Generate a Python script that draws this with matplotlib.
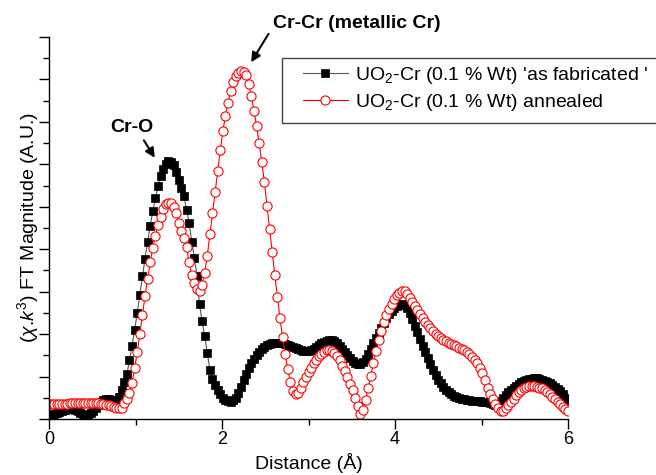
import numpy as np
import matplotlib.pyplot as plt
from matplotlib.ticker import MultipleLocator
from matplotlib.patches import Rectangle

plt.rcParams['font.family'] = 'Liberation Sans'
plt.rcParams['mathtext.fontset'] = 'custom'
plt.rcParams['mathtext.rm'] = 'Liberation Sans'
plt.rcParams['mathtext.it'] = 'Liberation Sans:italic'
plt.rcParams['mathtext.bf'] = 'Liberation Sans:bold'

# FT grid, 0 - 6 A
distance = np.linspace(0, 6, 201)

# 'as fabricated' sample (black squares)
fabricated = [
    0.10, 0.10, 0.11, 0.13, 0.16, 0.19, 0.22, 0.24, 0.25, 0.24,
    0.22, 0.19, 0.15, 0.12, 0.10, 0.10, 0.13, 0.19, 0.27, 0.34,
    0.40, 0.44, 0.46, 0.46, 0.44, 0.42, 0.44, 0.52, 0.68, 0.88,
    1.05, 1.39, 1.72, 2.10, 2.50, 2.93, 3.36, 3.78, 4.18, 4.55,
    4.90, 5.20, 5.48, 5.72, 5.90, 6.01, 6.07, 6.06, 5.99, 5.82,
    5.62, 5.45, 5.25, 4.93, 4.62, 4.18, 3.80, 3.36, 2.70, 2.30,
    1.95, 1.55, 1.16, 0.95, 0.80, 0.68, 0.58, 0.50, 0.45, 0.42,
    0.41, 0.44, 0.50, 0.62, 0.76, 0.92, 1.07, 1.20, 1.32, 1.42,
    1.50, 1.58, 1.65, 1.70, 1.74, 1.77, 1.79, 1.80, 1.80, 1.79,
    1.78, 1.76, 1.74, 1.72, 1.70, 1.68, 1.65, 1.63, 1.61, 1.60,
    1.60, 1.62, 1.65, 1.69, 1.74, 1.78, 1.81, 1.84, 1.85, 1.85,
    1.83, 1.79, 1.73, 1.66, 1.58, 1.50, 1.43, 1.37, 1.33, 1.30,
    1.30, 1.34, 1.42, 1.53, 1.65, 1.78, 1.90, 2.03, 2.15, 2.27,
    2.38, 2.47, 2.55, 2.61, 2.66, 2.69, 2.70, 2.68, 2.62, 2.50,
    2.35, 2.20, 2.05, 1.89, 1.73, 1.58, 1.43, 1.29, 1.16, 1.04,
    0.93, 0.84, 0.76, 0.69, 0.63, 0.58, 0.54, 0.51, 0.49, 0.47,
    0.46, 0.45, 0.44, 0.43, 0.43, 0.42, 0.42, 0.41, 0.40, 0.39,
    0.37, 0.35, 0.34, 0.36, 0.42, 0.50, 0.57, 0.63, 0.69, 0.74,
    0.78, 0.82, 0.86, 0.89, 0.92, 0.94, 0.95, 0.96, 0.96, 0.95,
    0.93, 0.90, 0.87, 0.84, 0.80, 0.76, 0.71, 0.65, 0.58, 0.50,
    0.45,
]

# annealed sample (open red circles)
annealed = [
    0.35, 0.35, 0.35, 0.36, 0.36, 0.36, 0.36, 0.36, 0.37, 0.37,
    0.37, 0.38, 0.38, 0.38, 0.38, 0.38, 0.38, 0.38, 0.37, 0.37,
    0.36, 0.35, 0.34, 0.32, 0.30, 0.28, 0.26, 0.25, 0.27, 0.37,
    0.47, 0.62, 0.85, 1.20, 1.58, 2.00, 2.45, 2.90, 3.30, 3.69,
    4.03, 4.32, 4.56, 4.77, 4.95, 5.06, 5.10, 5.08, 5.00, 4.85,
    4.62, 4.44, 4.26, 4.05, 3.70, 3.40, 3.20, 3.07, 3.02, 3.16,
    3.45, 3.85, 4.35, 4.85, 5.35, 5.85, 6.33, 6.78, 7.15, 7.45,
    7.72, 7.93, 8.07, 8.16, 8.19, 8.18, 8.10, 7.90, 7.60, 7.25,
    6.90, 6.50, 6.05, 5.58, 5.02, 4.48, 3.93, 3.40, 2.88, 2.37,
    1.94, 1.53, 1.18, 0.88, 0.66, 0.58, 0.62, 0.74, 0.87, 0.99,
    1.10, 1.20, 1.31, 1.40, 1.48, 1.54, 1.59, 1.62, 1.63, 1.61,
    1.56, 1.48, 1.38, 1.26, 1.13, 0.99, 0.83, 0.68, 0.49, 0.30,
    0.12, 0.22, 0.45, 0.72, 1.02, 1.32, 1.60, 1.85, 2.08, 2.28,
    2.46, 2.60, 2.71, 2.82, 2.91, 2.97, 3.01, 3.01, 2.95, 2.86,
    2.76, 2.66, 2.56, 2.47, 2.38, 2.29, 2.21, 2.14, 2.07, 2.01,
    1.96, 1.91, 1.87, 1.83, 1.80, 1.77, 1.74, 1.71, 1.68, 1.65,
    1.62, 1.58, 1.53, 1.47, 1.40, 1.32, 1.21, 1.08, 0.92, 0.74,
    0.58, 0.46, 0.35, 0.25, 0.18, 0.19, 0.26, 0.33, 0.40, 0.48,
    0.56, 0.63, 0.68, 0.72, 0.75, 0.77, 0.78, 0.78, 0.76, 0.74,
    0.72, 0.68, 0.64, 0.59, 0.53, 0.47, 0.41, 0.35, 0.29, 0.23,
    0.20,
]

fig = plt.figure(figsize=(6.56, 4.75), dpi=100)
ax = fig.add_axes([49 / 656, 56 / 475, 519 / 656, 382 / 475])

ax.plot(distance, fabricated, color='#555555', lw=0.8, marker='s', ms=5.5,
        mfc='black', mec='black', mew=0.5,
        label="UO$_2$-Cr (0.1 % Wt) 'as fabricated '")
ax.plot(distance, annealed, color='red', lw=0.8, marker='o', ms=6.6,
        mfc='white', mec='red', mew=0.8,
        label='UO$_2$-Cr (0.1 % Wt) annealed')

ax.set_xlim(0, 6)
ax.set_ylim(0, 9)
for side in ['top', 'right']:
    ax.spines[side].set_visible(False)
for side in ['left', 'bottom']:
    ax.spines[side].set_linewidth(1.0)

ax.xaxis.set_major_locator(MultipleLocator(2))
ax.xaxis.set_minor_locator(MultipleLocator(1))
ax.yaxis.set_major_locator(MultipleLocator(1))
ax.yaxis.set_minor_locator(MultipleLocator(0.5))
ax.tick_params(which='major', direction='out', length=7, width=1,
               labelsize=13, pad=2)
ax.tick_params(which='minor', direction='out', length=4, width=1)
ax.tick_params(axis='y', labelleft=False)

ax.set_xlabel('Distance (Å)', fontsize=14, labelpad=3)
ax.set_ylabel(r'($\chi$.$k^3$) FT Magnitude (A.U.)', fontsize=14, labelpad=-2)

# peak labels
ax.text(0.96, 6.86, 'Cr-O', fontsize=14, fontweight='bold', ha='center', va='center')
ax.annotate('', xy=(1.24, 6.10), xytext=(1.08, 6.62),
            arrowprops=dict(arrowstyle='-|>', color='black', lw=1.5, mutation_scale=14))
ax.text(2.59, 9.32, 'Cr-Cr (metallic Cr)', fontsize=14, fontweight='bold',
        ha='left', va='center')
ax.annotate('', xy=(2.32, 8.35), xytext=(2.555, 9.13), annotation_clip=False,
            arrowprops=dict(arrowstyle='-|>', color='black', lw=1.5, mutation_scale=14))

# legend with a frame running off the right edge
fig.patches.append(Rectangle((282 / 656, 1 - 123 / 475), 420 / 656, 65 / 475,
                             transform=fig.transFigure, fill=False,
                             edgecolor='#444444', lw=1.0))
fig.legend(loc='upper left', bbox_to_anchor=(303 / 656, 1 - 65 / 475),
           frameon=False, fontsize=14, borderpad=0, borderaxespad=0,
           handlelength=2.3, handletextpad=0.35, labelspacing=0.3)

fig.savefig('out.png', dpi=100)
